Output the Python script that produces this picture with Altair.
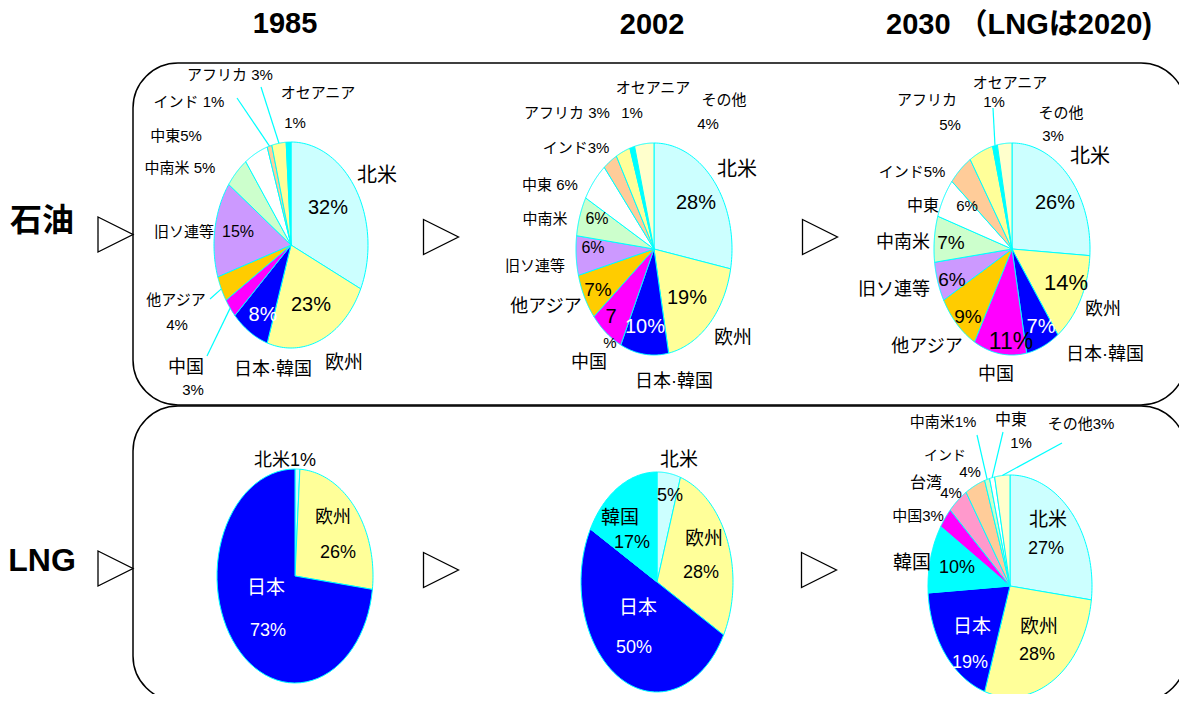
import altair as alt
import pandas as pd

# ---------------- data ----------------
oil_names_1985 = ["北米", "欧州", "日本·韓国", "中国", "他アジア", "旧ソ連等", "中南米", "中東", "インド", "アフリカ", "オセアニア"]
oil_values_1985 = [32, 23, 8, 3, 4, 15, 5, 5, 1, 3, 1]

oil_names_2002 = ["北米", "欧州", "日本·韓国", "中国", "他アジア", "旧ソ連等", "中南米", "中東", "インド", "アフリカ", "オセアニア", "その他"]
oil_values_2002 = [28, 19, 10, 7, 7, 6, 6, 6, 3, 3, 1, 4]

oil_names_2030 = ["北米", "欧州", "日本·韓国", "中国", "他アジア", "旧ソ連等", "中南米", "中東", "インド", "アフリカ", "オセアニア", "その他"]
oil_values_2030 = [26, 14, 7, 11, 9, 6, 7, 6, 5, 5, 1, 3]

lng_names_1985 = ["北米", "欧州", "日本"]
lng_values_1985 = [1, 26, 73]

lng_names_2002 = ["北米", "欧州", "日本", "韓国"]
lng_values_2002 = [5, 28, 50, 17]

lng_names_2030 = ["北米", "欧州", "日本", "韓国", "中国", "台湾", "インド", "中南米", "中東", "その他"]
lng_values_2030 = [27, 28, 19, 10, 3, 4, 4, 1, 1, 3]

column_titles = ["1985", "2002", "2030 （LNGは2020)"]
row_titles = ["石油", "LNG"]

# ---------------- styles / layout ----------------
slice_colors = {
    "北米": "#ccffff", "欧州": "#ffff99", "日本·韓国": "#0000ff", "日本": "#0000ff",
    "中国": "#ff00ff", "他アジア": "#ffcc00", "旧ソ連等": "#cc99ff", "中南米": "#ccffcc",
    "中東": "#ffffff", "インド": "#ffcc99", "アフリカ": "#ffff99", "オセアニア": "#00ffff",
    "その他": "#ffffcc", "韓国": "#00ffff", "台湾": "#ff99cc",
}
# pie geometry: centre x, centre y, radius x, radius y (page pixels)
pies = {
    "o85": (oil_names_1985, oil_values_1985, (291, 245, 77, 103)),
    "o02": (oil_names_2002, oil_values_2002, (654, 249, 78, 106)),
    "o30": (oil_names_2030, oil_values_2030, (1012, 249, 78, 106)),
    "L85": (lng_names_1985, lng_values_1985, (295, 576, 78, 107)),
    "L02": (lng_names_2002, lng_values_2002, (657, 582, 76, 110)),
    "L30": (lng_names_2030, lng_values_2030, (1010, 586, 82, 111)),
}
# outer ends of leader lines
leaders = {
    ("o85", "中国"): (207, 356), ("o85", "他アジア"): (210, 299),
    ("o85", "インド"): (237, 98), ("o85", "アフリカ"): (261, 87),
    ("o30", "オセアニア"): (993, 108),
    ("L30", "中南米"): (977, 435), ("L30", "中東"): (1003, 432), ("L30", "その他"): (1062, 443),
}
S = 15  # small label size
# label placement: pie, slice, kind, x, y, font size, colour
label_layout = [
    ("o85", "北米", "name", 377, 176, 20, "k"), ("o85", "北米", "pct", 328, 208, 20, "k"),
    ("o85", "欧州", "pct", 311, 305, 20, "k"), ("o85", "欧州", "name", 344, 363, 19, "k"),
    ("o85", "日本·韓国", "pct", 263, 315, 20, "w"), ("o85", "日本·韓国", "name", 273, 370, 18, "k"),
    ("o85", "中国", "name", 186, 368, 18, "k"), ("o85", "中国", "pct", 193, 390, 15, "k"),
    ("o85", "他アジア", "name", 176, 300, S, "k"), ("o85", "他アジア", "pct", 177, 325, S, "k"),
    ("o85", "旧ソ連等", "name", 184, 232, S, "k"), ("o85", "旧ソ連等", "pct", 238, 232, 16, "k"),
    ("o85", "中南米", "both_sp", 180, 168, S, "k"), ("o85", "中東", "both", 176, 136, S, "k"),
    ("o85", "インド", "both_sp", 189, 102, S, "k"), ("o85", "アフリカ", "both_sp2", 230, 75, S, "k"),
    ("o85", "オセアニア", "name", 318, 93, S, "k"), ("o85", "オセアニア", "pct", 295, 123, S, "k"),

    ("o02", "オセアニア", "name", 653, 88, S, "k"), ("o02", "オセアニア", "pct", 632, 113, S, "k"),
    ("o02", "その他", "name", 724, 100, S, "k"), ("o02", "その他", "pct", 708, 124, S, "k"),
    ("o02", "アフリカ", "both_sp", 567, 113, S, "k"), ("o02", "インド", "both", 576, 148, S, "k"),
    ("o02", "中東", "both_sp2", 550, 185, S, "k"),
    ("o02", "中南米", "name", 545, 219, S, "k"), ("o02", "中南米", "pct", 597, 219, 16, "k"),
    ("o02", "旧ソ連等", "name", 535, 266, S, "k"), ("o02", "旧ソ連等", "pct", 593, 248, 16, "k"),
    ("o02", "他アジア", "name", 546, 307, 18, "k"), ("o02", "他アジア", "pct", 598, 290, 19, "k"),
    ("o02", "中国", "num", 611, 317, 20, "k"), ("o02", "中国", "sign", 610, 343, 15, "k"),
    ("o02", "中国", "name", 589, 363, 18, "k"),
    ("o02", "日本·韓国", "name", 674, 382, 18, "k"), ("o02", "日本·韓国", "pct", 645, 327, 20, "w"),
    ("o02", "欧州", "pct", 687, 298, 20, "k"), ("o02", "欧州", "name", 733, 338, 19, "k"),
    ("o02", "北米", "pct", 696, 203, 20, "k"), ("o02", "北米", "name", 737, 170, 20, "k"),

    ("o30", "アフリカ", "name", 927, 100, S, "k"), ("o30", "アフリカ", "pct", 950, 125, S, "k"),
    ("o30", "オセアニア", "name", 1010, 83, S, "k"), ("o30", "オセアニア", "pct", 994, 102, S, "k"),
    ("o30", "その他", "name", 1061, 113, S, "k"), ("o30", "その他", "pct", 1053, 136, S, "k"),
    ("o30", "北米", "name", 1090, 157, 20, "k"), ("o30", "北米", "pct", 1055, 203, 20, "k"),
    ("o30", "インド", "both", 912, 172, S, "k"),
    ("o30", "中東", "name", 923, 206, 16, "k"), ("o30", "中東", "pct", 967, 206, 15, "k"),
    ("o30", "中南米", "name", 903, 243, 18, "k"), ("o30", "中南米", "pct", 951, 243, 19, "k"),
    ("o30", "旧ソ連等", "name", 894, 290, 18, "k"), ("o30", "旧ソ連等", "pct", 952, 280, 19, "k"),
    ("o30", "他アジア", "pct", 968, 317, 19, "k"), ("o30", "他アジア", "name", 927, 347, 18, "k"),
    ("o30", "中国", "pct", 1011, 342, 23, "k"), ("o30", "中国", "name", 996, 375, 18, "k"),
    ("o30", "日本·韓国", "pct", 1041, 327, 20, "w"), ("o30", "日本·韓国", "name", 1105, 355, 18, "k"),
    ("o30", "欧州", "pct", 1066, 283, 22, "k"), ("o30", "欧州", "name", 1103, 310, 18, "k"),

    ("L85", "北米", "both", 285, 461, 18, "k"),
    ("L85", "欧州", "name", 333, 518, 18, "k"), ("L85", "欧州", "pct", 338, 553, 18, "k"),
    ("L85", "日本", "name", 266, 588, 19, "w"), ("L85", "日本", "pct", 268, 631, 18, "w"),

    ("L02", "北米", "name", 679, 460, 19, "k"), ("L02", "北米", "pct", 670, 496, 18, "k"),
    ("L02", "韓国", "name", 620, 518, 19, "k"), ("L02", "韓国", "pct", 632, 543, 18, "k"),
    ("L02", "欧州", "name", 704, 539, 19, "k"), ("L02", "欧州", "pct", 701, 573, 18, "k"),
    ("L02", "日本", "name", 638, 608, 19, "w"), ("L02", "日本", "pct", 634, 648, 18, "w"),

    ("L30", "中南米", "both", 943, 422, S, "k"),
    ("L30", "中東", "name", 1011, 420, 16, "k"), ("L30", "中東", "pct", 1021, 443, S, "k"),
    ("L30", "その他", "both", 1081, 424, S, "k"),
    ("L30", "インド", "name", 945, 456, 14, "k"), ("L30", "インド", "pct", 970, 472, S, "k"),
    ("L30", "台湾", "name", 926, 483, 16, "k"), ("L30", "台湾", "pct", 951, 493, S, "k"),
    ("L30", "中国", "both", 918, 516, S, "k"),
    ("L30", "韓国", "name", 912, 563, 19, "k"), ("L30", "韓国", "pct", 957, 568, 18, "k"),
    ("L30", "北米", "name", 1048, 520, 19, "k"), ("L30", "北米", "pct", 1046, 549, 18, "k"),
    ("L30", "日本", "name", 972, 627, 19, "w"), ("L30", "日本", "pct", 970, 663, 18, "w"),
    ("L30", "欧州", "name", 1039, 627, 19, "k"), ("L30", "欧州", "pct", 1037, 655, 18, "k"),
]
title_layout = [(285, 23.5, 29), (652, 24.5, 29), (1019, 24.5, 29)]
row_layout = [(42, 221, 32), (42, 561, 32)]
triangle_layout = [(115.5, 234.5), (441, 237), (820, 237), (115.5, 568.5), (441, 570), (819, 570)]
box_layout = [(133, 1186, 63, 405), (133, 1186, 406, 701)]

FONT = "Liberation Sans Narrow, Liberation Sans, Noto Sans CJK JP, sans-serif"
BOLD_FONT = "Liberation Sans, Noto Sans CJK JP, sans-serif"
EDGE = "#00ffff"
N = 60

# ---------------- tables ----------------
rows = []
for pid, (names, values, (cx, cy, rx, ry)) in pies.items():
    for i, (nm, v) in enumerate(zip(names, values)):
        lx, ly = leaders.get((pid, nm), (None, None))
        rows.append(dict(pie=pid, name=nm, value=v, idx=i, color=slice_colors[nm],
                         cx=cx, cy=cy, rx=rx, ry=ry, lx=lx, ly=ly))
slices = pd.DataFrame(rows)

value_of = {(pid, nm): v for pid, (names, values, _) in pies.items() for nm, v in zip(names, values)}
lab_rows = []
for pid, nm, kind, x, y, size, col in label_layout:
    v = value_of[(pid, nm)]
    text = {
        "name": nm, "pct": f"{v}%", "both": f"{nm}{v}%", "both_sp": f"{nm} {v}%",
        "both_sp2": f"{nm}  {v}%", "num": f"{v}", "sign": "%",
    }[kind]
    lab_rows.append(dict(x=x, y=y, text=text, size=size, color="white" if col == "w" else "black"))
labels = pd.DataFrame(lab_rows)

titles = pd.DataFrame([dict(x=x, y=y, size=s, text=t) for t, (x, y, s) in zip(column_titles, title_layout)])
rowlab = pd.DataFrame([dict(x=x, y=y, size=s, text=t) for t, (x, y, s) in zip(row_titles, row_layout)])
tris = pd.DataFrame([dict(x=x, y=y) for x, y in triangle_layout])
boxes = pd.DataFrame([dict(x=a, x2=b, y=c, y2=d) for a, b, c, d in box_layout])

# ---------------- chart ----------------
W, H = 1171, 686
xs = alt.Scale(domain=[8, 8 + W], nice=False, zero=False)
ys = alt.Scale(domain=[8, 8 + H], nice=False, zero=False, reverse=True)

box_layer = alt.Chart(boxes).mark_rect(
    fillOpacity=0, stroke="black", strokeWidth=1.5, cornerRadius=45
).encode(
    x=alt.X("x:Q", scale=xs, axis=None), x2="x2:Q",
    y=alt.Y("y:Q", scale=ys, axis=None), y2="y2:Q",
)

base = alt.Chart(slices).transform_window(
    cum="sum(value)", groupby=["pie"], sort=[alt.SortField("idx")], frame=[None, 0]
).transform_joinaggregate(
    total="sum(value)", groupby=["pie"]
).transform_calculate(
    a0="2*PI*(datum.cum - datum.value)/datum.total",
    a1="2*PI*datum.cum/datum.total",
    key="datum.pie + '_' + datum.idx",
)

pie_layer = base.transform_calculate(
    k=f"sequence(0, {N + 2})"
).transform_flatten(["k"]).transform_calculate(
    ang=f"datum.a0 + (datum.a1 - datum.a0) * (datum.k - 1) / {N}",
    px="datum.k == 0 ? datum.cx : datum.cx + datum.rx * sin(datum.ang)",
    py="datum.k == 0 ? datum.cy : datum.cy - datum.ry * cos(datum.ang)",
).mark_line(
    interpolate="linear-closed", stroke=EDGE, strokeWidth=1
).encode(
    x=alt.X("px:Q", scale=xs, axis=None),
    y=alt.Y("py:Q", scale=ys, axis=None),
    detail="key:N",
    order="k:Q",
    fill=alt.Fill("color:N", scale=None),
)

leader_layer = base.transform_filter("isValid(datum.lx)").transform_calculate(
    mid="(datum.a0 + datum.a1) / 2",
    ex="datum.cx + datum.rx * sin(datum.mid)",
    ey="datum.cy - datum.ry * cos(datum.mid)",
).mark_rule(stroke=EDGE, strokeWidth=1.2).encode(
    x=alt.X("ex:Q", scale=xs, axis=None), x2="lx:Q",
    y=alt.Y("ey:Q", scale=ys, axis=None), y2="ly:Q",
)

label_layer = alt.Chart(labels).mark_text(
    font=FONT, align="center", baseline="middle"
).encode(
    x=alt.X("x:Q", scale=xs, axis=None),
    y=alt.Y("y:Q", scale=ys, axis=None),
    text="text:N",
    size=alt.Size("size:Q", scale=None),
    color=alt.Color("color:N", scale=None),
)

title_layer = alt.Chart(titles).mark_text(
    font=BOLD_FONT, fontWeight="bold", align="center", baseline="middle", color="black"
).encode(
    x=alt.X("x:Q", scale=xs, axis=None),
    y=alt.Y("y:Q", scale=ys, axis=None),
    text="text:N",
    size=alt.Size("size:Q", scale=None),
)

row_layer = alt.Chart(rowlab).mark_text(
    font=BOLD_FONT, fontWeight="bold", align="center", baseline="middle", color="black"
).encode(
    x=alt.X("x:Q", scale=xs, axis=None),
    y=alt.Y("y:Q", scale=ys, axis=None),
    text="text:N",
    size=alt.Size("size:Q", scale=None),
)

tri_layer = alt.Chart(tris).mark_point(
    shape="M-1,-1L1,0L-1,1Z", size=1225, filled=False, stroke="black", strokeWidth=1.3, opacity=1
).encode(
    x=alt.X("x:Q", scale=xs, axis=None),
    y=alt.Y("y:Q", scale=ys, axis=None),
)

chart = alt.layer(
    box_layer, pie_layer, leader_layer, label_layer, title_layer, row_layer, tri_layer
).properties(
    width=W, height=H, autosize=alt.AutoSizeParams(type="none"), padding=0, background="white"
).configure_view(strokeWidth=0)

chart.save("out.html", embed_options={"renderer": "svg", "actions": False})
